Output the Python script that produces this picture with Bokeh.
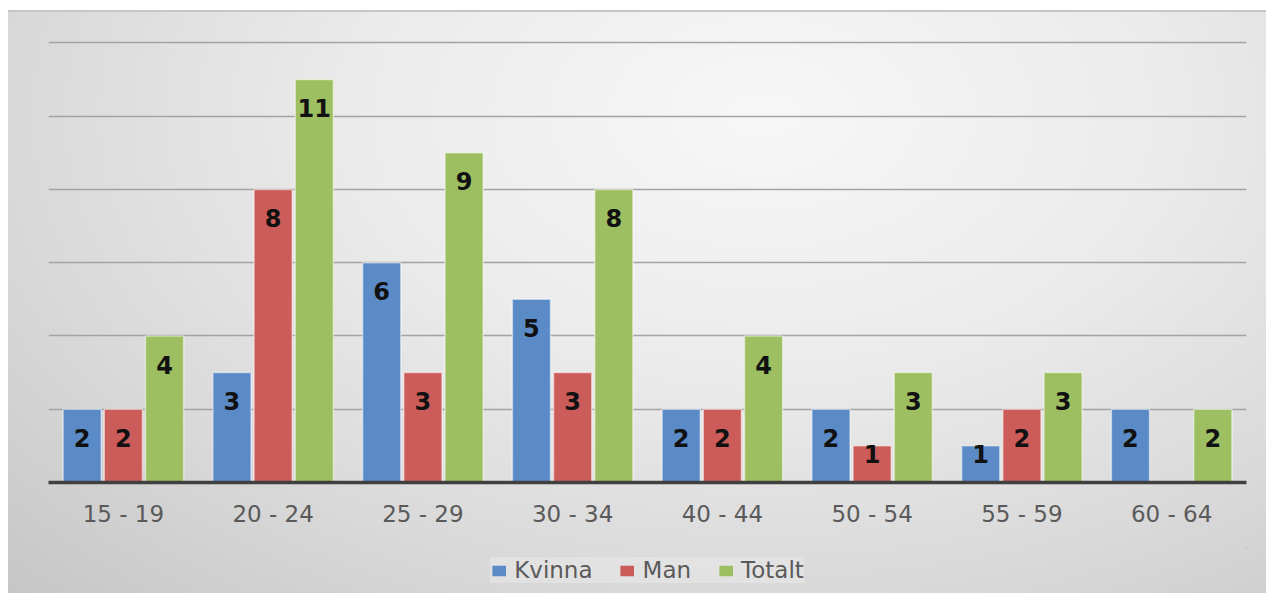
from bokeh.plotting import figure
from bokeh.layouts import column
from bokeh.models import ColumnDataSource, FactorRange, Range1d, Legend, LegendItem, FixedTicker
from bokeh.transform import dodge
from bokeh.core.properties import value
from bokeh.embed import file_html
from bokeh.resources import INLINE

categories = ["15 - 19", "20 - 24", "25 - 29", "30 - 34", "40 - 44", "50 - 54", "55 - 59", "60 - 64"]
kvinna = [2, 3, 6, 5, 2, 2, 1, 2]
man = [2, 8, 3, 3, 2, 1, 2, 0]
totalt = [4, 11, 9, 8, 4, 3, 3, 2]
series_names = ["Kvinna", "Man", "Totalt"]
series_values = [kvinna, man, totalt]
colors = ["#5b8bc7", "#cc5c59", "#9dbf62"]
offsets = [-0.275, 0.0, 0.275]
grid_ticks = [2, 4, 6, 8, 10, 12]

W = 1266
p = figure(
    x_range=FactorRange(*categories, range_padding=0),
    y_range=Range1d(0, 12.5),
    width=W, height=547,
    output_backend="svg", toolbar_location=None,
    min_border_left=48, min_border_right=20, min_border_top=24, min_border_bottom=65,
)
p.background_fill_alpha = 0
p.border_fill_alpha = 0
p.outline_line_color = None

p.yaxis.visible = False
p.ygrid.ticker = FixedTicker(ticks=grid_ticks)
p.ygrid.grid_line_color = "#a3a3a3"
p.ygrid.grid_line_width = 1.6
p.xgrid.visible = False

p.xaxis.axis_line_color = "#404040"
p.xaxis.axis_line_width = 3.5
p.xaxis.major_tick_line_color = None
p.xaxis.minor_tick_line_color = None
p.xaxis.major_tick_out = 0
p.xaxis.major_tick_in = 0
p.xaxis.major_label_standoff = 18
p.xaxis.major_label_text_font = "DejaVu Sans"
p.xaxis.major_label_text_font_size = "23px"
p.xaxis.major_label_text_color = "#5a5a5a"

# companion strip that only carries the legend (its bars have zero height and lie outside its range)
p2 = figure(x_range=Range1d(-3, -2), y_range=Range1d(0, 1), width=W, height=46,
            output_backend="svg", toolbar_location=None,
            x_axis_location=None, y_axis_location=None,
            min_border_left=29, min_border_right=0, min_border_top=0, min_border_bottom=0)
p2.background_fill_alpha = 0
p2.border_fill_alpha = 0
p2.outline_line_color = None
p2.grid.visible = False

items = []
for name, vals, col, off in zip(series_names, series_values, colors, offsets):
    cats = [c for c, v in zip(categories, vals) if v > 0]
    vs = [v for v in vals if v > 0]
    ly = [v - 0.78 if v > 1 else v - 0.22 for v in vs]
    src = ColumnDataSource(dict(cat=cats, v=vs, ly=ly, lbl=[str(v) for v in vs]))
    p.vbar(x=dodge("cat", off, range=p.x_range), top="v", bottom=0, width=0.255, source=src,
           fill_color=col, line_color="#ffffff", line_alpha=0.5, line_width=1.5)
    p.text(x=dodge("cat", off, range=p.x_range), y="ly", text="lbl", source=src,
           text_align="center", text_baseline="middle",
           text_font=value("DejaVu Sans"), text_font_style="bold",
           text_font_size="24px", text_color="#111111")
    r2 = p2.vbar(x="v", top="v", bottom="v", width=0.1, source=src, fill_color=col, line_color=None)
    items.append(LegendItem(label=name, renderers=[r2], index=0))

legend = Legend(items=items, orientation="horizontal", location="center")
legend.label_text_font = "DejaVu Sans"
legend.label_text_font_size = "23px"
legend.label_text_color = "#5a5a5a"
legend.glyph_width = 17
legend.glyph_height = 13
legend.label_standoff = 7
legend.spacing = 26
legend.padding = 18
legend.margin = 0
legend.border_line_color = None
legend.background_fill_color = "#e8e8e8"
legend.background_fill_alpha = 0.6
p2.add_layout(legend, "center")

layout = column(p, p2, spacing=0)
layout.styles = {
    "background-color": "#ffffff",
    "background-image": "linear-gradient(#c6c6c6, #c6c6c6), "
                        "radial-gradient(ellipse farthest-corner at 60% 18%, #f7f7f7 0%, #ebebeb 38%, #d8d8d8 72%, #c6c6c6 100%)",
    "background-position": "8px 10px, 8px 10px",
    "background-size": "calc(100% - 8px) 2px, calc(100% - 8px) calc(100% - 10px)",
    "background-repeat": "no-repeat, no-repeat",
}

open("out.html", "w").write(file_html(layout, INLINE))
